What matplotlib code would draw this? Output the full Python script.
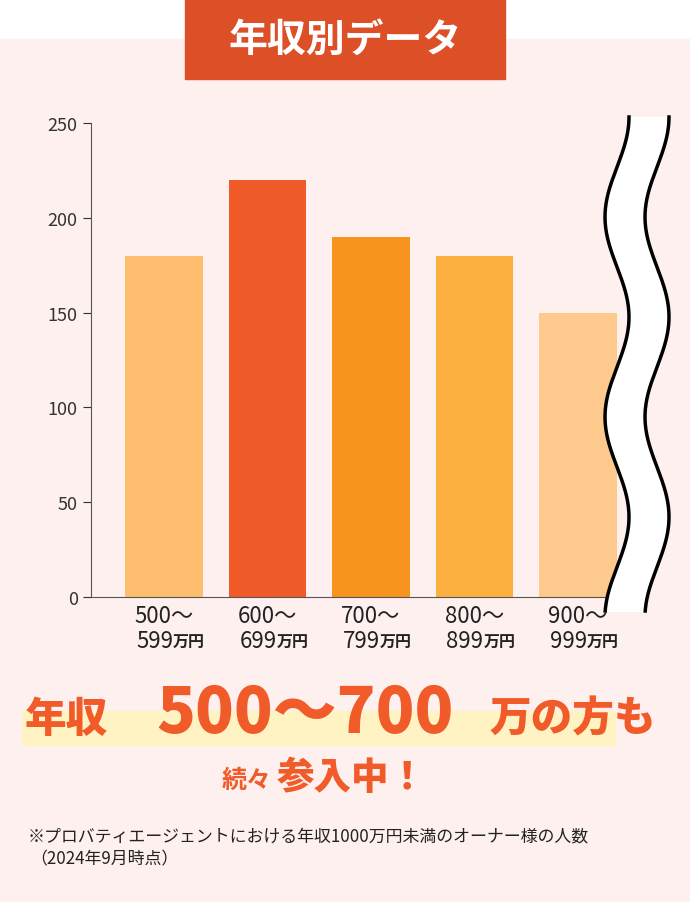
import matplotlib.pyplot as plt
import numpy as np

plt.rcParams['font.family'] = ['Noto Sans CJK JP', 'DejaVu Sans']

ranges_top = ["500～", "600～", "700～", "800～", "900～"]
ranges_bottom = ["599", "699", "799", "899", "999"]
counts = [180, 220, 190, 180, 150]
colors = ["#FDBF6F", "#F15A29", "#F7941D", "#FBB040", "#FDC98C"]

W, H = 690, 903
fig = plt.figure(figsize=(W / 100, H / 100), dpi=100)
fig.patch.set_facecolor("white")

# background overlay in pixel coords
bg = fig.add_axes([0, 0, 1, 1], zorder=0)
bg.set_xlim(0, W)
bg.set_ylim(H, 0)
bg.axis("off")
bg.add_patch(plt.Rectangle((0, 40), W, H - 40, color="#FDF0EE"))
bg.add_patch(plt.Rectangle((185, 0), 320, 80, color="#DD4F27"))
bg.text(345, 40, "年収別データ", color="white", fontsize=28, fontweight="bold",
        ha="center", va="center")

# bar chart
ax = fig.add_axes([91 / W, 1 - 598 / H, 549 / W, 474 / H], zorder=1)
ax.patch.set_alpha(0)
x = np.arange(len(counts))
ax.bar(x, counts, width=0.75, color=colors)
ax.set_xlim(-0.705, 4.6)
ax.set_ylim(0, 250)
ax.set_yticks([0, 50, 100, 150, 200, 250])
ax.tick_params(axis="y", labelsize=13, colors="#333333", length=6, width=0.8)
ax.set_xticks([])
for s in ["top", "right"]:
    ax.spines[s].set_visible(False)
for s in ["left", "bottom"]:
    ax.spines[s].set_color("#555555")
    ax.spines[s].set_linewidth(0.8)

# wave overlay
ov = fig.add_axes([0, 0, 1, 1], zorder=2)
ov.set_xlim(0, W)
ov.set_ylim(H, 0)
ov.axis("off")
yy = np.linspace(118, 612, 400)
xl = 617 + 12 * np.sin((yy - 118) / 200 * 2 * np.pi + np.pi / 2)
xr = xl + 40
ov.fill_betweenx(yy, xl, xr, color="white")
ov.plot(xl, yy, color="black", lw=2.5)
ov.plot(xr, yy, color="black", lw=2.5)

# x tick labels
for i in range(len(counts)):
    px = 91 + (i + 0.705) * 103.5
    ov.text(px, 617, ranges_top[i], fontsize=16, ha="center", va="center", color="#222222")
    ov.text(px + 9, 642, ranges_bottom[i], fontsize=16, ha="right", va="center", color="#222222")
    ov.text(px + 9, 643, "万円", fontsize=11.5, fontweight="bold", ha="left", va="center", color="#222222")

# headline
orange = "#F15A29"
ov.add_patch(plt.Rectangle((22, 712), 593, 34, color="#FFF3C4"))
ov.text(25, 720, "年収", fontsize=30, fontweight="heavy", color=orange, ha="left", va="center")
ov.text(305, 714, "500～700", fontsize=46, fontweight="heavy", color=orange, ha="center", va="center")
ov.text(490, 720, "万の方も", fontsize=30, fontweight="heavy", color=orange, ha="left", va="center")
ov.text(272, 781, "続々", fontsize=18, fontweight="bold", color=orange, ha="right", va="center")
ov.text(277, 778, "参入中！", fontsize=27, fontweight="heavy", color=orange, ha="left", va="center")

# footnote
ov.text(28, 836, "※プロバティエージェントにおける年収1000万円未満のオーナー様の人数",
        fontsize=12.2, color="#222222", ha="left", va="center")
ov.text(30, 859, "（2024年9月時点）", fontsize=12.2, color="#222222", ha="left", va="center")

fig.savefig("out.png", dpi=100, facecolor=fig.get_facecolor())
